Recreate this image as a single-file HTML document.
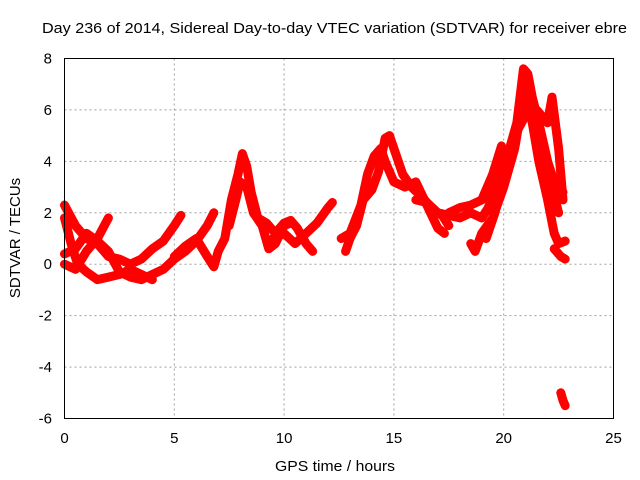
<!DOCTYPE html>
<html><head><meta charset="utf-8"><style>
body{margin:0;background:#fff}
svg{display:block;font-family:"Liberation Sans",sans-serif}
</style></head><body>
<svg id="c" width="640" height="480">
<text x="42" y="33" font-size="15" textLength="585" lengthAdjust="spacingAndGlyphs" fill="#000">Day 236 of 2014, Sidereal Day-to-day VTEC variation (SDTVAR) for receiver ebre</text>
<text x="335" y="471" text-anchor="middle" font-size="15" textLength="120" lengthAdjust="spacingAndGlyphs">GPS time / hours</text>
<text transform="translate(20,238) rotate(-90)" text-anchor="middle" font-size="15">SDTVAR / TECUs</text>
<g id="grid"></g><g id="marks"></g>
<rect x="64.5" y="58.5" width="549" height="360" fill="none" stroke="#000"/>
</svg>
<script>
const xTicks=[0,5,10,15,20,25];
const yTicks=[-6,-4,-2,0,2,4,6,8];
const trackA=[[0,2.3],[0.5,1.5],[1,1.0],[1.5,0.8],[2,0.3],[2.5,0.2],[3,0],[3.5,0.2],[4,0.6],[4.5,0.9],[5,1.5],[5.3,1.9]];
const trackB=[[0,0.4],[0.5,0.6],[1,1.2],[1.5,0.9],[2,0.5],[2.5,-0.3],[3,-0.5],[3.5,-0.6],[4,-0.4],[4.5,-0.2],[5,0.2],[5.5,0.5],[6,0.9],[6.5,1.5],[6.8,2.0]];
const trackC=[[0,1.8],[0.3,0.8],[0.6,0],[1,-0.3],[1.5,-0.6],[2,-0.5],[2.5,-0.4],[3,-0.2],[3.5,-0.4],[4,-0.6]];
const trackD=[[0,0],[0.5,-0.2],[1,0.5],[1.5,1.0],[2,1.8]];
const trackE=[[5,0.3],[5.5,0.7],[6,1.0],[6.5,0.3],[6.8,-0.1],[7,0.5],[7.3,1.0],[7.6,2.5],[7.9,3.5],[8.1,4.3],[8.3,3.8],[8.5,2.8],[8.8,1.8],[9.2,1.6],[9.6,1.2],[10,1.6],[10.3,1.7],[10.6,1.4],[11,0.8],[11.3,0.5]];
const trackF=[[7.5,1.5],[7.8,2.5],[8,3.2],[8.3,3.0],[8.6,2.0],[9,1.5],[9.3,0.6],[9.6,0.8],[10,1.5],[10.3,1.6]];
const trackG=[[9.5,1.0],[10,1.2],[10.5,0.8],[11,1.2],[11.5,1.6],[12,2.2],[12.2,2.4]];
const trackH=[[12.8,0.5],[13,1.0],[13.3,1.5],[13.6,2.5],[14,2.9],[14.3,3.6],[14.6,4.9],[14.8,5.0],[15,4.5],[15.4,3.5],[15.8,3.0],[16.3,2.6],[16.8,2.1],[17.2,1.9],[17.5,1.5]];
const trackI=[[12.6,1.0],[13,1.2],[13.5,2.3],[13.8,3.5],[14.1,4.2],[14.4,4.5],[14.6,4.0],[15,3.2],[15.5,3.0],[16,3.2],[16.5,2.3],[17,1.4],[17.3,1.2]];
const trackJ=[[16,2.5],[16.5,2.4],[17,2.0],[17.5,1.9],[18,1.8],[18.5,2.0],[19,1.8],[19.3,2.2],[19.6,3.0],[20,4.0],[20.3,4.6],[20.6,5.5],[20.9,7.6],[21.1,7.4],[21.3,6.5],[21.6,5.5],[22,4.0],[22.3,3.2],[22.7,2.8]];
const trackK=[[18.5,0.8],[18.7,0.5],[19,1.2],[19.5,1.8],[20,3.0],[20.5,4.5],[20.8,6.0],[21,6.5],[21.3,5.5],[21.6,4.0],[22,2.5],[22.3,1.2],[22.5,0.8],[22.8,0.9]];
const trackL=[[20.5,5.0],[21,5.8],[21.5,6.0],[22,5.5],[22.2,6.5],[22.5,4.5],[22.7,2.5]];
const trackM=[[22.6,-5.0],[22.7,-5.3],[22.8,-5.5]];
const trackN=[[22.3,0.6],[22.6,0.3],[22.8,0.2]];
const trackO=[[19.2,1.0],[19.6,2.0],[20,3.5],[20.4,4.8],[20.7,5.5],[21,6.8],[21.4,6.0],[21.8,4.5],[22.2,3.0],[22.5,2.0]];
const trackP=[[17.5,2.0],[18,2.2],[18.5,2.3],[19,2.5],[19.5,3.5],[19.9,4.6]];
const tracks=[trackA,trackB,trackC,trackD,trackE,trackF,trackG,trackH,trackI,trackJ,trackK,trackL,trackM,trackN,trackO,trackP];
const NS='http://www.w3.org/2000/svg';
const X=v=>64.5+v*549/25, Y=v=>418.5-(v+6)*360/14;
const grid=document.getElementById('grid'), marks=document.getElementById('marks');
function mk(t,a,p){const e=document.createElementNS(NS,t);for(const k in a)e.setAttribute(k,a[k]);p.appendChild(e);return e;}
xTicks.forEach(t=>{
 if(t>0&&t<25){const l=mk('line',{x1:X(t),x2:X(t),y1:58.5,y2:418.5,stroke:'#a0a0a0','stroke-dasharray':'2,3'},grid);
 
 }
 const tx=mk('text',{x:X(t),y:443,'text-anchor':'middle','font-size':15},grid);tx.textContent=t;
 
 
});
yTicks.forEach(t=>{
 if(t>-6&&t<8){const l=mk('line',{x1:64.5,x2:613.5,y1:Y(t),y2:Y(t),stroke:'#a0a0a0','stroke-dasharray':'2,3'},grid);
 
 }
 const tx=mk('text',{x:52,y:Y(t)+5,'text-anchor':'end','font-size':15},grid);tx.textContent=t;
 
 
});
tracks.forEach(tr=>{
 const p=mk('polyline',{points:tr.map(d=>X(d[0])+','+Y(d[1])).join(' '),fill:'none',stroke:'#ff0000','stroke-width':9,'stroke-linejoin':'round','stroke-linecap':'round'},marks);
 
 
});
</script>
</body></html>
